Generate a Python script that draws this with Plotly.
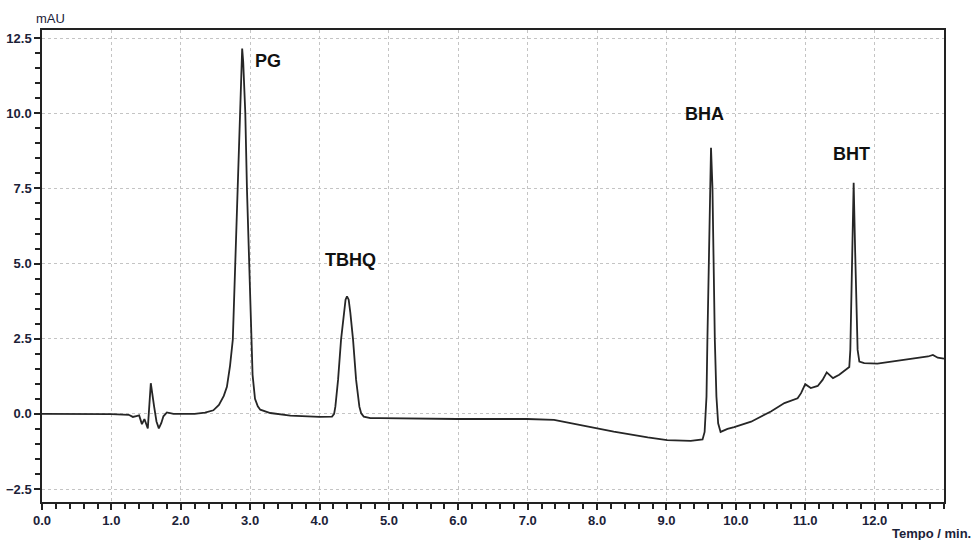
import plotly.graph_objects as go

# Chromatogram trace (time in min, absorbance in mAU)
time_min = [0.0, 0.5, 1.0, 1.25, 1.31, 1.36, 1.40, 1.44, 1.476, 1.525, 1.568, 1.616, 1.65, 1.684,
            1.72, 1.75, 1.80, 1.895, 2.2, 2.35, 2.47, 2.55, 2.62, 2.665, 2.71, 2.75, 2.785, 2.82, 2.85,
            2.87, 2.885, 2.90, 2.93, 2.954, 2.987, 3.01, 3.035, 3.07, 3.11, 3.146, 3.29, 3.58,
            4.0, 4.18, 4.21, 4.228, 4.267, 4.31, 4.348, 4.375, 4.396, 4.42, 4.444, 4.483, 4.527, 4.574,
            4.60, 4.637, 4.733, 4.88, 5.98, 6.99, 7.38, 7.76, 8.24, 8.73, 9.01, 9.35, 9.52, 9.55, 9.577,
            9.59, 9.61, 9.625, 9.642, 9.663, 9.678, 9.697, 9.72, 9.745, 9.78, 9.88, 9.976, 10.22,
            10.505, 10.70, 10.89, 10.94, 11.0, 11.08, 11.18, 11.25, 11.31, 11.40, 11.49, 11.59,
            11.635, 11.65, 11.66, 11.68, 11.698, 11.72, 11.74, 11.755, 11.78, 11.85, 12.04, 12.24,
            12.53, 12.77, 12.84, 12.91, 13.0]
absorbance_mau = [0.0, 0.0, -0.01, -0.03, -0.1, -0.07, -0.05, -0.34, -0.17, -0.48, 1.02, 0.24, -0.25, -0.48,
                  -0.3, -0.08, 0.05, 0.0, 0.0, 0.04, 0.12, 0.3, 0.6, 0.9, 1.6, 2.47, 5.0, 7.47, 10.0,
                  11.6, 12.15, 11.7, 10.0, 7.47, 5.0, 2.47, 1.3, 0.5, 0.25, 0.14, 0.03, -0.06,
                  -0.1, -0.09, 0.0, 0.24, 1.13, 2.47, 3.36, 3.8, 3.91, 3.8, 3.36, 2.47, 1.13, 0.24,
                  0.02, -0.09, -0.14, -0.14, -0.17, -0.17, -0.2, -0.37, -0.59, -0.78, -0.87, -0.9, -0.85, -0.6, 0.58,
                  2.47, 5.02, 7.52, 8.85, 7.52, 5.02, 2.47, 0.58, -0.31, -0.6, -0.5, -0.44, -0.26,
                  0.08, 0.36, 0.52, 0.69, 0.99, 0.86, 0.93, 1.13, 1.38, 1.19, 1.3, 1.49,
                  1.56, 2.13, 3.13, 5.36, 7.69, 5.36, 3.13, 2.13, 1.74, 1.69, 1.67, 1.74,
                  1.82, 1.91, 1.96, 1.87, 1.84]

# Peak labels
peak_names = ["PG", "TBHQ", "BHA", "BHT"]
peak_label_t = [3.25, 4.44, 9.55, 11.67]
peak_label_v = [11.73, 5.13, 9.97, 8.63]

x_ticks = [0, 1, 2, 3, 4, 5, 6, 7, 8, 9, 10, 11, 12]
y_ticks = [-2.5, 0.0, 2.5, 5.0, 7.5, 10.0, 12.5]

tick_color = "#1c2238"
font_family = "Liberation Sans, Arial, sans-serif"

fig = go.Figure()
fig.add_trace(go.Scatter(x=time_min, y=absorbance_mau, mode="lines",
                         line=dict(color="#262626", width=1.8), hoverinfo="skip",
                         showlegend=False))

for name, t, v in zip(peak_names, peak_label_t, peak_label_v):
    fig.add_annotation(x=t, y=v, text="<b>" + name + "</b>", showarrow=False,
                       font=dict(family=font_family, size=18, color="#111111"),
                       xanchor="center", yanchor="middle")

fig.add_annotation(xref="paper", yref="paper", x=0.0, xshift=8, y=1.0, yshift=2,
                   text="mAU", showarrow=False, xanchor="center", yanchor="bottom",
                   font=dict(family=font_family, size=13, color=tick_color))
fig.add_annotation(xref="paper", yref="paper", x=1.0322, y=0, yshift=-22,
                   text="<b>Tempo / min.</b>", showarrow=False, xanchor="right", yanchor="top",
                   font=dict(family=font_family, size=13, color=tick_color))

axis_common = dict(showline=True, linecolor="#222222", linewidth=1.5, mirror=True,
                   showgrid=True, gridcolor="#c4c4c4", griddash="dot", gridwidth=1,
                   zeroline=False, ticks="outside", ticklen=6, tickwidth=1.5, tickcolor="#222222",
                   automargin=False,
                   tickfont=dict(family=font_family, size=13, color=tick_color, weight="bold"))

fig.update_xaxes(range=[0, 13], tickvals=x_ticks, tickformat=".1f",
                 minor=dict(dtick=0.2, ticks="outside", ticklen=5, tickwidth=1.5,
                            tickcolor="#222222", showgrid=False),
                 **axis_common)
fig.update_yaxes(range=[-2.93, 12.77], tickvals=y_ticks, tickformat=".1f",
                 minor=dict(dtick=0.5, tick0=0, ticks="outside", ticklen=5, tickwidth=1.5,
                            tickcolor="#222222", showgrid=False),
                 **axis_common)

fig.update_layout(width=974, height=540, plot_bgcolor="white", paper_bgcolor="white",
                  margin=dict(l=42, r=30, t=30, b=38), showlegend=False, hovermode=False)

fig.write_html("out.html", config={"displayModeBar": False},
               post_script="document.body.style.margin='0';document.body.style.overflow='hidden';")
